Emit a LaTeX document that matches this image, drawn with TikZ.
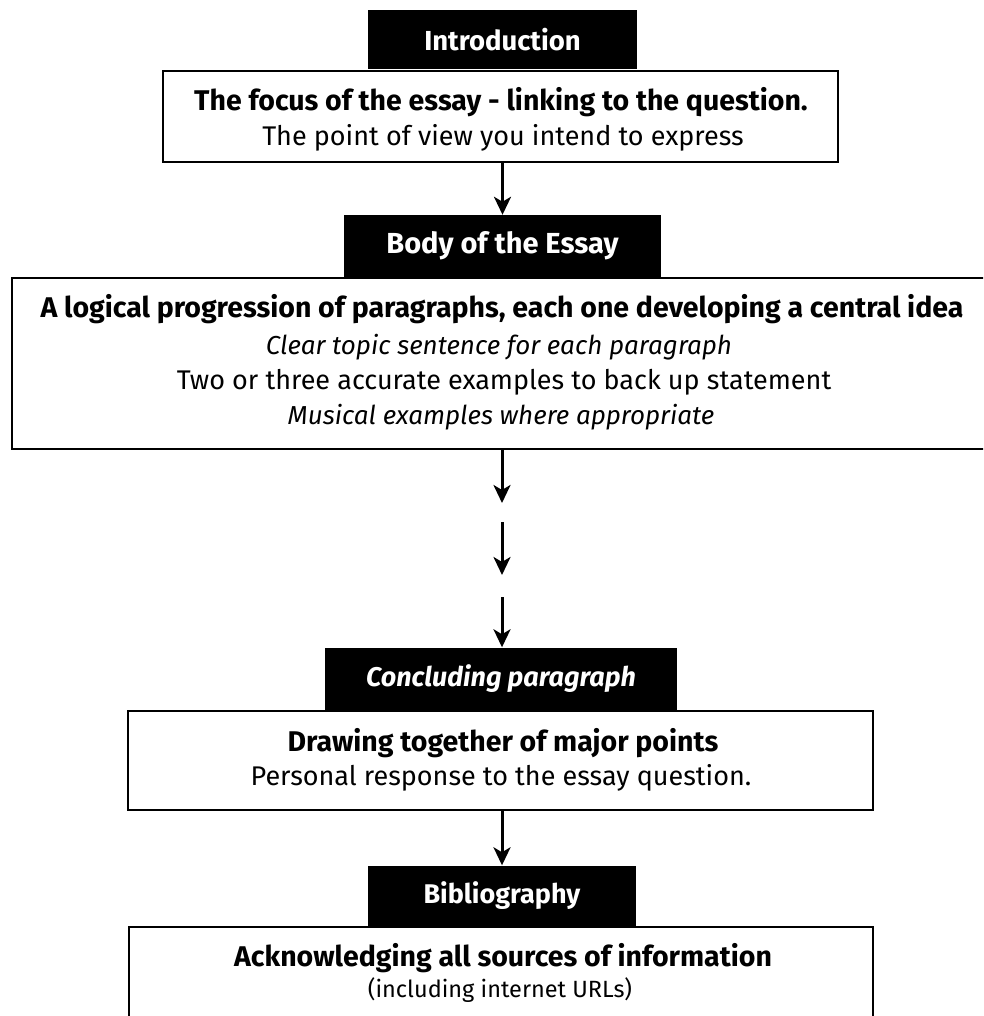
\documentclass[tikz,border=0pt]{standalone}
\usepackage{fontspec}
\setmainfont{Fira Sans}
\usetikzlibrary{arrows.meta}
\begin{document}
\begin{tikzpicture}[x=1pt,y=-1pt,
  hdr/.style={fill=black,text=white,inner sep=0pt,font=\fontsize{27.5}{30}\selectfont\bfseries},
  box/.style={draw=black,line width=2.5pt,fill=white,inner sep=0pt},
  txt/.style={inner sep=0pt,text height=20pt,text depth=6pt,font=\fontsize{27}{30}\selectfont},
  btxt/.style={txt,font=\fontsize{28.5}{30}\selectfont\bfseries},
  itxt/.style={txt,font=\fontsize{26}{30}\selectfont\itshape},
  arr/.style={line width=3pt,-{Stealth[length=18pt,width=17pt,inset=5pt]}}]
\useasboundingbox (0,0) rectangle (983,1016);
\clip (0,0) rectangle (983,1016);
% boxes
\node[box,minimum width=675pt,minimum height=91pt] (intro) at (500.5,116.5) {};
\node[hdr,minimum width=269pt,minimum height=59pt] (introhdr) at (502.5,40) {Introduction};
\node[btxt] (i1) at (501,104) {The focus of the essay - linking to the question.};
\node[txt] (i2) at (503,139) {The point of view you intend to express};

\node[box,minimum width=983pt,minimum height=171pt] (body) at (503.5,363.5) {};
\node[hdr,minimum width=317pt,minimum height=62pt,font=\fontsize{29}{30}\selectfont\bfseries] (bodyhdr) at (502.5,246) {Body of the Essay};
\node[btxt] (b1) at (502,310) {A logical progression of paragraphs, each one developing a central idea};
\node[itxt] (b2) at (499,347) {Clear topic sentence for each paragraph};
\node[txt] (b3) at (504,382) {Two or three accurate examples to back up statement};
\node[itxt] (b4) at (501,417) {Musical examples where appropriate};

\node[box,minimum width=745pt,minimum height=99pt] (concl) at (500.5,760.5) {};
\node[hdr,minimum width=352pt,minimum height=63pt,font=\fontsize{27}{30}\selectfont\bfseries\itshape] (conclhdr) at (501,679) {Concluding paragraph};
\node[btxt] (c1) at (503,744) {Drawing together of major points};
\node[txt] (c2) at (501,778) {Personal response to the essay question.};

\node[box,minimum width=744pt,minimum height=113pt] (bib) at (501,983.5) {};
\node[hdr,minimum width=268pt,minimum height=61pt,font=\fontsize{27}{30}\selectfont\bfseries] (bibhdr) at (502,896) {Bibliography};
\node[btxt] (g1) at (503,959) {Acknowledging all sources of information};
\node[txt,font=\fontsize{23.5}{30}\selectfont] (g2) at (500,990) {(including internet URLs)};

% arrows
\coordinate (a1e) at (502,503);
\coordinate (a2s) at (502,522);
\coordinate (a2e) at (502,575);
\coordinate (a3s) at (502,597);
\draw[arr] (bodyhdr.north |- intro.south) -- (bodyhdr.north);
\draw[arr] (a1e |- body.south) -- (a1e);
\draw[arr] (a2s) -- (a2e);
\draw[arr] (a3s) -- (a3s |- conclhdr.north);
\draw[arr] (a3s |- concl.south) -- (a3s |- bibhdr.north);
\end{tikzpicture}
\end{document}
